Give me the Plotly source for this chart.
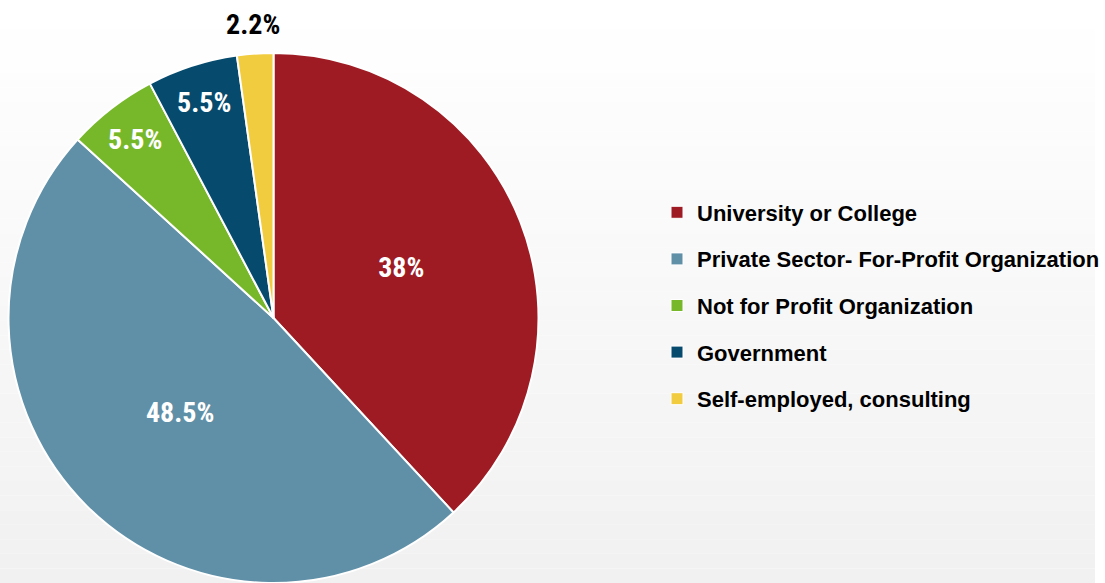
import plotly.graph_objects as go

categories = ["University or College", "Private Sector- For-Profit Organization",
              "Not for Profit Organization", "Government", "Self-employed, consulting"]
values = [38, 48.5, 5.5, 5.5, 2.2]
colors = ["#9E1B24", "#5F90A8", "#77B82A", "#064B6E", "#F2CC3F"]
label_text = [f"{v:g}%" for v in values]
text_pos = ["inside", "inside", "inside", "inside", "none"]

W, H = 1105, 583
NARROW = "Liberation Sans Narrow, Arial Narrow, Roboto Condensed, Liberation Sans, Arial"
SANS = "Liberation Sans, Arial, Helvetica, sans-serif"

fig = go.Figure()
fig.add_trace(go.Pie(
    labels=categories, values=values, sort=False, direction="clockwise", rotation=0,
    marker=dict(colors=colors, line=dict(color="white", width=2)),
    text=label_text, textinfo="text", textposition=text_pos,
    insidetextorientation="horizontal",
    insidetextfont=dict(color="white", size=28, family=NARROW, weight="bold"),
    domain=dict(x=[8 / W, 544 / W], y=[0, 530 / H]),
    showlegend=False, hoverinfo="label+percent",
))
# legend entries (one group each so spacing can be controlled)
for name, col in zip(categories, colors):
    fig.add_trace(go.Scatter(
        x=[None], y=[None], mode="markers", name=name, legendgroup=name,
        marker=dict(symbol="square", size=12, color=col, line=dict(color="white", width=1)),
    ))

# background gradient: white at top -> light gray at bottom
shapes = []
n = 40
for i in range(n):
    t = i / (n - 1)
    g = round(255 - 14 * t)
    shapes.append(dict(type="rect", xref="paper", yref="paper",
                       x0=0, x1=1, y0=1 - (i + 1) / n, y1=1 - i / n,
                       fillcolor=f"rgb({g},{g},{g})", line=dict(width=0), layer="below"))

# small slice label placed above the pie
annotations = [dict(text=label_text[4], x=255 / W, y=1 - 25 / H, xref="paper", yref="paper",
                    showarrow=False, xanchor="center", yanchor="middle",
                    font=dict(family=NARROW, size=28, color="black", weight="bold"))]

fig.update_layout(
    width=W, height=H, margin=dict(l=0, r=0, t=0, b=0),
    paper_bgcolor="white", plot_bgcolor="rgba(0,0,0,0)",
    xaxis=dict(visible=False), yaxis=dict(visible=False),
    shapes=shapes, annotations=annotations,
    legend=dict(x=663 / W, y=1 - 305.5 / H, xanchor="left", yanchor="middle",
                font=dict(family=SANS, size=22, color="black", weight="bold"),
                tracegroupgap=15, bgcolor="rgba(0,0,0,0)", itemclick=False),
)
fig.write_html("out.html", config={"displayModeBar": False},
               post_script="document.body.style.margin='0px';")
